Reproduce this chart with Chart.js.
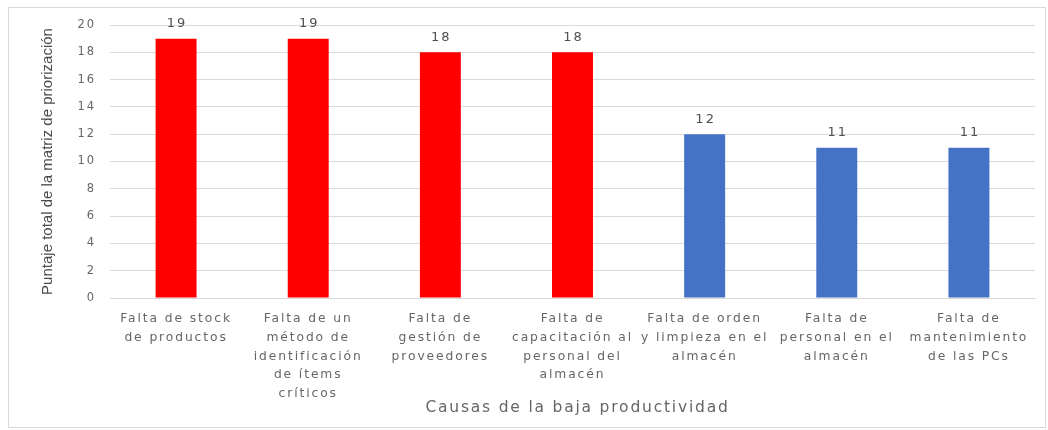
<!DOCTYPE html>
<html>
<head>
<meta charset="utf-8">
<script src="https://cdn.jsdelivr.net/npm/chart.js@4"></script>
<style>
  html, body { margin: 0; padding: 0; background: #ffffff; }
  #wrap { width: 1048px; height: 430px; position: relative; }
</style>
</head>
<body>
<div id="wrap"><canvas id="chart" width="1048" height="430"></canvas></div>
<script>
// Causes of low productivity and their prioritisation-matrix scores
const categories = [
  ["Falta de stock", "de productos"],
  ["Falta de un", "método de", "identificación", "de ítems", "críticos"],
  ["Falta de", "gestión de", "proveedores"],
  ["Falta de", "capacitación al", "personal del", "almacén"],
  ["Falta de orden", "y limpieza en el", "almacén"],
  ["Falta de", "personal en el", "almacén"],
  ["Falta de", "mantenimiento", "de las PCs"]
];
const scores = [19, 19, 18, 18, 12, 11, 11];
const barColors = ["#ff0000", "#ff0000", "#ff0000", "#ff0000", "#4472c4", "#4472c4", "#4472c4"];
const yTitle = "Puntaje total de la matriz de priorización";
const xTitle = "Causas de la baja productividad";

const TEXT = "#666666";

// Light frame around the whole chart, plus wide letter spacing for tick text
const framePlugin = {
  id: "frame",
  beforeDraw(chart) {
    const ctx = chart.ctx;
    ctx.save();
    ctx.fillStyle = "#ffffff";
    ctx.fillRect(0, 0, chart.width, chart.height);
    ctx.strokeStyle = "#d9d9d9";
    ctx.lineWidth = 1;
    ctx.strokeRect(8.5, 7.5, 1037, 420);
    ctx.restore();
    ctx.letterSpacing = "1.9px";
  },
  afterDraw(chart) {
    chart.ctx.letterSpacing = "0px";
  }
};

// Value labels above each bar
const valueLabels = {
  id: "valueLabels",
  afterDatasetsDraw(chart) {
    const ctx = chart.ctx;
    const meta = chart.getDatasetMeta(0);
    ctx.save();
    ctx.letterSpacing = "2px";
    ctx.font = "13px 'DejaVu Sans'";
    ctx.fillStyle = "#505050";
    ctx.textAlign = "center";
    ctx.textBaseline = "middle";
    meta.data.forEach((bar, i) => {
      ctx.fillText(String(scores[i]), bar.x + 1, bar.y - 15);
    });
    ctx.restore();
  }
};

// Axis titles
const axisTitles = {
  id: "axisTitles",
  afterDraw(chart) {
    const ctx = chart.ctx;
    const area = chart.chartArea;
    ctx.save();
    ctx.textAlign = "center";
    ctx.textBaseline = "middle";

    ctx.letterSpacing = "1.8px";
    ctx.font = "15.5px 'DejaVu Sans'";
    ctx.fillStyle = TEXT;
    ctx.fillText(xTitle, (area.left + area.right) / 2 + 5, 408);

    ctx.letterSpacing = "0px";
    ctx.font = "15px 'Liberation Sans Narrow', 'Liberation Sans'";
    ctx.fillStyle = "#4a4a4a";
    ctx.translate(48, (area.top + area.bottom) / 2);
    ctx.rotate(-Math.PI / 2);
    ctx.fillText(yTitle, 0, 0);
    ctx.restore();
  }
};

new Chart(document.getElementById("chart"), {
  type: "bar",
  data: {
    labels: categories,
    datasets: [{
      data: scores,
      backgroundColor: barColors,
      borderWidth: 0,
      categoryPercentage: 1,
      barPercentage: 0.31
    }]
  },
  options: {
    responsive: false,
    animation: false,
    devicePixelRatio: 1,
    layout: { padding: { top: 25, right: 13, left: 0, bottom: 0 } },
    plugins: {
      legend: { display: false },
      tooltip: { enabled: false }
    },
    scales: {
      y: {
        min: 0,
        max: 20,
        ticks: {
          stepSize: 2,
          color: TEXT,
          font: { family: "'DejaVu Sans'", size: 11.5 },
          padding: 14
        },
        grid: { color: "#d9d9d9", drawTicks: false },
        border: { display: false },
        afterFit(scale) { scale.width = 110; }
      },
      x: {
        ticks: {
          color: TEXT,
          font: { family: "'DejaVu Sans'", size: 12.3, lineHeight: 1.54 },
          padding: 11,
          maxRotation: 0,
          autoSkip: false
        },
        grid: { display: false, drawTicks: false },
        border: { display: true, color: "#d9d9d9" },
        afterFit(scale) { scale.height = 132; }
      }
    }
  },
  plugins: [framePlugin, valueLabels, axisTitles]
});
</script>
</body>
</html>
